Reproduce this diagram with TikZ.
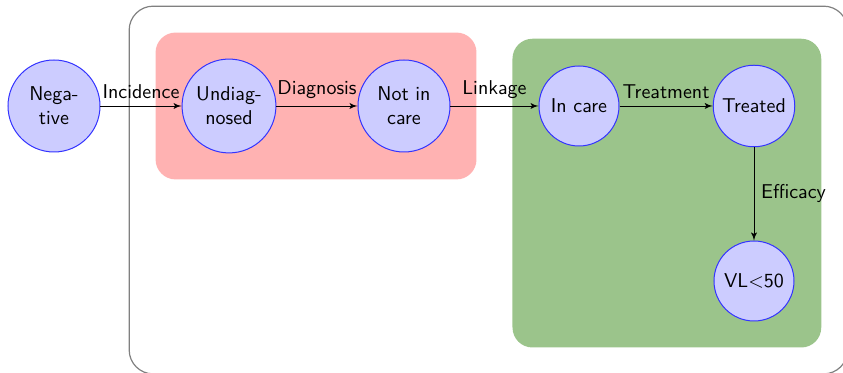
\documentclass[tikz,border=0pt]{standalone}
\usepackage{amsmath}
\usepackage{tikz}
\usetikzlibrary{arrows}
\usetikzlibrary{positioning,fit,backgrounds}
\definecolor{caregreen}{RGB}{155,196,139}

\begin{document}
\begin{tikzpicture}[font=\sffamily, >=latex', node distance=87.5pt, on grid,
    stage/.style={circle, draw=blue!80, line width=0.5pt, fill=blue!20, minimum size=40pt, align=center},
    widestage/.style={stage, minimum size=46pt},
    flow/.style={->, thin},
    cascade/.style={fill=#1, rounded corners=10pt, inner sep=13pt}]
    \useasboundingbox (-27pt,53pt) rectangle (394.5pt,-133.5pt);
    %% Stages
    \node[widestage] (neg) {Nega-\\tive};
    \node[widestage, right=of neg] (undiag) {Undiag-\\nosed};
    \node[widestage, right=of undiag] (notcare) {Not in\\care};
    \node[stage, right=of notcare] (incare) {In care};
    \node[stage, right=of incare] (treated) {Treated};
    \node[stage, below=of treated] (vl) {VL$<$50};
    %% Transitions
    \draw[flow] (neg) -- node[above]{Incidence} (undiag);
    \draw[flow] (undiag) -- node[above]{Diagnosis} (notcare);
    \draw[flow] (notcare) -- node[above]{Linkage} (incare);
    \draw[flow] (incare) -- node[above]{Treatment} (treated);
    \draw[flow] (treated) -- node[right]{Efficacy} (vl);
    %% Boxes
    \begin{scope}[on background layer]
    \node[cascade=red!30, fit=(undiag)(notcare)] (diag) {};
    \node[cascade=caregreen, fit=(incare)(treated)(vl)] (care) {};
    \node[draw=gray, semithick, rounded corners=12pt, inner sep=13pt, fit=(diag)(care)] (system) {};
    \end{scope}
\end{tikzpicture}
\end{document}
